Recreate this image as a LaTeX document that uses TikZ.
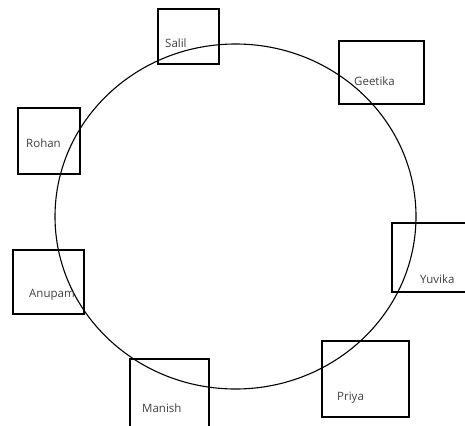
\documentclass[tikz,border=0pt]{standalone}
\usepackage{fontspec}
\setmainfont{Open Sans}
\usetikzlibrary{positioning}

\begin{document}
\begin{tikzpicture}[
  x=1pt, y=-1pt,
  every node/.style={font=\fontsize{11.5}{13}\selectfont},
  seat/.style={draw, line width=1.2pt, inner sep=0pt},
  guest/.style={anchor=base west, inner sep=0pt, text=black!75}
]
\useasboundingbox (0,0) rectangle (465,425);
\fill[white] (0,0) rectangle (465,425);
\clip (0,0) rectangle (465,425);

% the round table
\draw[line width=1.1pt] (235.5,216.5) ellipse [x radius=180.5, y radius=172.5];

% seats
\node[seat, minimum width=61pt, minimum height=55pt] (salilbox) at (188.5,36.5) {};
\node[seat, minimum width=85pt, minimum height=63pt] (geetikabox) at (381.5,72.5) {};
\node[seat, minimum width=62pt, minimum height=66pt] (rohanbox) at (49,141) {};
\node[seat, minimum width=83pt, minimum height=69pt] (yuvikabox) at (433.5,257.5) {};
\node[seat, minimum width=71pt, minimum height=64pt] (anupambox) at (48.5,282) {};
\node[seat, minimum width=79pt, minimum height=81pt] (manishbox) at (169.5,399.5) {};
\node[seat, minimum width=87pt, minimum height=76pt] (priyabox) at (365.5,379) {};

% names
\node[guest] (salil) at (165,47.5) {Salil};
\node[guest] (geetika) at (354,85) {Geetika};
\node[guest] (rohan) at (26,147) {Rohan};
\node[guest] (yuvika) at (420,283) {Yuvika};
\node[guest] (anupam) at (29,297) {Anupam};
\node[guest] (manish) at (142,412) {Manish};
\node[guest] (priya) at (337,400) {Priya};
\end{tikzpicture}
\end{document}
